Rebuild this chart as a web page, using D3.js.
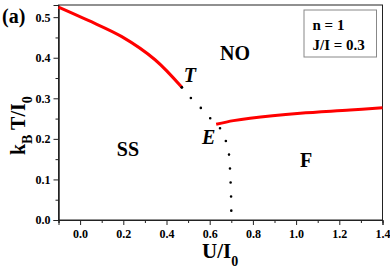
<!DOCTYPE html>
<html>
<head>
<meta charset="utf-8">
<script src="https://cdn.jsdelivr.net/npm/d3@7/dist/d3.min.js"></script>
<style>
  body { margin: 0; background: #fff; }
  svg text { font-family: "Liberation Serif", "Times New Roman", serif; font-weight: bold; fill: #000; }
</style>
</head>
<body>
<div id="chart"></div>
<script>
// phase boundary lines, [U/I0, kBT/I0]
const ssNoLine = [[-0.1, 0.525], [0.038, 0.492], [0.193, 0.452], [0.347, 0.395], [0.471, 0.327]];
const fNoLine = [[0.630, 0.236], [0.71, 0.245], [0.787, 0.251], [1.019, 0.263], [1.25, 0.271], [1.4, 0.277]];
const firstOrderLine = [[0.471, 0.327], [0.509, 0.303], [0.556, 0.278], [0.602, 0.251], [0.648, 0.226],
    [0.676, 0.193], [0.690, 0.159], [0.694, 0.126], [0.697, 0.090], [0.699, 0.057], [0.700, 0.020], [0.700, 0.0]];

const xTicks = [0.0, 0.2, 0.4, 0.6, 0.8, 1.0, 1.2, 1.4];
const xMinorTicks = [-0.1, 0.1, 0.3, 0.5, 0.7, 0.9, 1.1, 1.3];
const yTicks = [0.0, 0.1, 0.2, 0.3, 0.4, 0.5];
const yMinorTicks = [0.05, 0.15, 0.25, 0.35, 0.45];

// region labels [text, x, y, italic]
const regionLabels = [
    ['NO', 0.648, 0.395, false],
    ['T', 0.48, 0.34, true],
    ['E', 0.564, 0.188, true],
    ['SS', 0.17, 0.158, false],
    ['F', 1.018, 0.13, false]
];
const legendLines = ['n = 1', 'J/I = 0.3'];

const width = 390, height = 279;
const svg = d3.select('#chart').append('svg')
    .attr('width', width)
    .attr('height', height);

const x = d3.scaleLinear().domain([-0.1, 1.4]).range([58.5, 382.5]);
const y = d3.scaleLinear().domain([0, 0.53]).range([220, 5]);

// frame
svg.append('rect')
    .attr('x', x(-0.1)).attr('y', y(0.53))
    .attr('width', x(1.4) - x(-0.1)).attr('height', y(0) - y(0.53))
    .attr('fill', 'none').attr('stroke', '#222').attr('stroke-width', 1);

const fmt = d3.format('.1f');

svg.append('g')
    .attr('transform', `translate(0,${y(0)})`)
    .call(d3.axisBottom(x).tickValues(xTicks).tickFormat(fmt).tickSizeOuter(0).tickSize(5).tickPadding(4));
svg.append('g')
    .attr('transform', `translate(0,${y(0)})`)
    .call(d3.axisBottom(x).tickValues(xMinorTicks).tickFormat('').tickSizeOuter(0).tickSize(3));

svg.append('g')
    .attr('transform', `translate(${x(-0.1)},0)`)
    .call(d3.axisLeft(y).tickValues(yTicks).tickFormat(fmt).tickSizeOuter(0).tickSize(5).tickPadding(3));
svg.append('g')
    .attr('transform', `translate(${x(-0.1)},0)`)
    .call(d3.axisLeft(y).tickValues(yMinorTicks).tickFormat('').tickSizeOuter(0).tickSize(3));

svg.selectAll('.domain').attr('stroke', '#222');
svg.selectAll('.tick line').attr('stroke', '#222');
svg.selectAll('g').attr('font-family', null).attr('font-size', null);
svg.selectAll('.tick text')
    .attr('font-size', 12)
    .attr('fill', '#000');

const line = d3.line()
    .x(d => x(d[0]))
    .y(d => y(d[1]))
    .curve(d3.curveCatmullRom);

svg.append('path')
    .datum(firstOrderLine)
    .attr('fill', 'none')
    .attr('stroke', '#000')
    .attr('stroke-width', 2.6)
    .attr('stroke-linecap', 'round')
    .attr('stroke-dasharray', '0,14')
    .attr('d', line);

[ssNoLine, fNoLine].forEach(seg => {
    svg.append('path')
        .datum(seg)
        .attr('fill', 'none')
        .attr('stroke', '#ff0000')
        .attr('stroke-width', 3)
        .attr('d', line);
});

// end dot at T
svg.append('circle')
    .attr('cx', x(ssNoLine[ssNoLine.length - 1][0]))
    .attr('cy', y(ssNoLine[ssNoLine.length - 1][1]))
    .attr('r', 1.4).attr('fill', '#000');

regionLabels.forEach(([t, vx, vy, it]) => {
    svg.append('text')
        .attr('x', x(vx)).attr('y', y(vy))
        .attr('font-size', 20)
        .style('font-style', it ? 'italic' : 'normal')
        .text(t);
});

// legend box
svg.append('rect')
    .attr('x', 304).attr('y', 10).attr('width', 72.5).attr('height', 47)
    .attr('fill', '#fff').attr('stroke', '#888').attr('stroke-width', 1);
legendLines.forEach((t, i) => {
    svg.append('text')
        .attr('x', 312.5).attr('y', 30 + i * 19.5)
        .attr('font-size', 15)
        .text(t);
});

// panel label
svg.append('text').attr('x', 2).attr('y', 23).attr('font-size', 20).text('(a)');

// axis titles
const xt = svg.append('text').attr('x', 202).attr('y', 258).attr('font-size', 21);
xt.append('tspan').text('U/I');
xt.append('tspan').attr('font-size', 14).attr('dy', 8).text('0');

const yt = svg.append('text')
    .attr('transform', 'translate(25,155) rotate(-90)')
    .attr('font-size', 20);
yt.append('tspan').text('k');
yt.append('tspan').attr('font-size', 14).attr('dy', 7).text('B');
yt.append('tspan').attr('dy', -7).text(' T/I');
yt.append('tspan').attr('font-size', 14).attr('dy', 7).text('0');
</script>
</body>
</html>
